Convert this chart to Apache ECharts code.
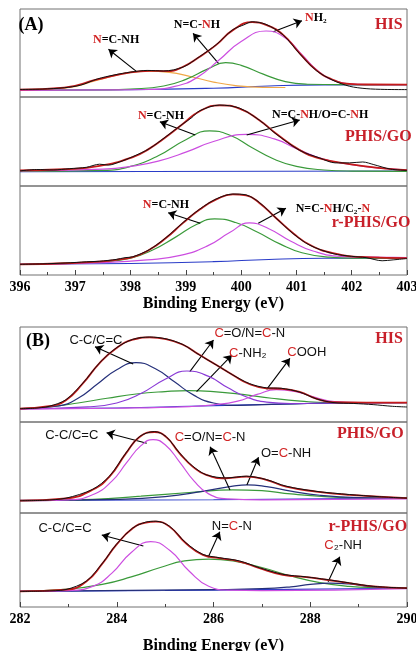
<!DOCTYPE html>
<html><head><meta charset="utf-8">
<script src="https://cdn.jsdelivr.net/npm/echarts@6.0.0/dist/echarts.min.js"></script>
<style>html,body{margin:0;padding:0;background:#fff}#c{width:416px;height:651px}</style>
</head><body><div id="c"></div>
<script>
// ---------- DATA (binding energy eV, intensity a.u. 0-100 per panel) ----------
const xTicksA = [396, 397, 398, 399, 400, 401, 402, 403];
const xTicksB = [282, 284, 286, 288, 290];

// (A) N1s  HIS
const A1_raw = [[396,8.6],[396.4,9],[396.8,10.5],[397.1,13.5],[397.4,20.5],[397.7,25],[398.0,28.3],[398.3,30.2],[398.6,29.6],[398.95,34],[399.25,46],[399.55,59.5],[399.85,76.5],[400.05,82],[400.2,85.5],[400.45,82.5],[400.76,70.5],[401.06,49],[401.36,30],[401.66,19],[401.96,12.2],[402.26,9.5],[402.6,8.6],[403,8.4]];
const A1_fit = [[396,8.4],[396.8,10.7],[397.4,20],[398.0,28],[398.35,29.8],[398.65,29.4],[398.95,34.4],[399.25,45.8],[399.55,59.2],[399.85,76],[400.2,85],[400.45,82],[400.76,70.6],[401.06,49.6],[401.36,30.5],[401.66,19.5],[401.96,15],[402.3,14.2],[403,14]];
const A1_base = [[396,7.6],[398,8.2],[399.5,10],[400.5,12.5],[401.5,13.8],[403,14]];
const A1_pk1 = [[396,8],[396.8,10],[397.4,19],[397.9,27],[398.3,29.5],[398.7,28],[399.1,23],[399.5,17],[399.9,13],[400.4,11],[400.8,10.8]];
const A1_pk2 = [[396,7.6],[397.5,8],[398.0,9],[398.6,12.5],[399.0,20],[399.4,32],[399.72,39],[400.0,36],[400.4,26],[400.8,17.5],[401.2,14.5],[401.8,14],[403,14]];
const A1_pk3 = [[396,7.6],[397.5,8],[398.3,8.5],[398.8,12],[399.2,22],[399.6,42],[400.0,63],[400.45,75],[400.8,67],[401.1,48],[401.4,29],[401.7,18.5],[402.1,14.5],[402.5,14],[403,14]];
// (A) PHIS/GO
const A2_raw = [[396,17],[396.3,18.5],[396.6,18],[396.9,19.5],[397.2,21],[397.44,24.5],[397.6,23.5],[397.8,27],[398.04,33],[398.34,42],[398.64,55.5],[398.95,70],[399.1,76.5],[399.25,84.5],[399.61,91],[399.97,87.5],[400.33,74],[400.63,58.5],[401.06,40],[401.42,31.5],[401.7,26],[401.96,26],[402.2,27],[402.4,24],[402.7,19],[403,17.5]];
const A2_fit = [[396,17.5],[396.8,18.8],[397.44,22.5],[398.04,32.5],[398.34,42],[398.64,55],[398.95,70],[399.25,84],[399.61,90.7],[399.97,87],[400.33,74],[400.63,59],[401.06,40.3],[401.42,31],[401.96,24.6],[402.57,19.8],[403,17.9]];
const A2_base = [[396,16],[403,16.8]];
const A2_pk1 = [[396,16.5],[397.5,17.5],[398.0,22],[398.5,34],[399.0,52],[399.43,62],[399.8,57],[400.2,43],[400.6,30],[401.0,22],[401.5,18],[402,16.8],[403,16.5]];
const A2_pk2 = [[396,17],[397.5,19],[398.0,22],[398.5,28],[399.0,38],[399.5,50],[400.1,58],[400.6,53],[401.0,42],[401.5,30],[402.0,24],[402.5,20],[403,18]];
// (A) r-PHIS/GO
const A3_raw = [[396,12],[396.4,12.5],[396.83,13.5],[397.2,14.8],[397.44,15.5],[397.74,17.5],[397.9,19.5],[398.04,20.5],[398.34,28.5],[398.64,42],[398.95,59],[399.25,74],[399.55,85.5],[399.85,91],[400.09,90],[400.33,81.5],[400.63,64],[400.94,46.5],[401.24,33.5],[401.66,24],[402.0,21],[402.26,19.5],[402.55,16],[402.75,17],[403,18.5]];
const A3_fit = [[396,12],[396.83,13.2],[397.44,15],[397.74,17],[398.04,20],[398.34,28.3],[398.64,41.5],[398.95,58.5],[399.25,73.6],[399.55,84.9],[399.85,90.6],[400.09,89.4],[400.33,81],[400.63,64],[400.94,47],[401.24,34],[401.66,24.5],[402.26,20],[403,19]];
const A3_base = [[396,12],[398,13],[399.5,15],[400.5,17.5],[401.5,18.8],[403,19]];
const A3_pk1 = [[396,12],[397.5,15],[398.0,19],[398.4,28],[398.8,42],[399.2,57],[399.52,63],[399.9,59],[400.3,48],[400.7,35],[401.1,25],[401.6,20],[402,19],[403,19]];
const A3_pk2 = [[396,12],[397.5,14],[398.3,17],[398.9,22],[399.4,33],[399.8,48],[400.15,58.5],[400.5,52],[400.9,38],[401.3,27],[401.8,21],[402.5,20],[403,19.5]];

// (B) C1s  HIS
const B1_raw = [[282,14],[282.3,14.5],[282.6,16.5],[282.95,23.5],[283.3,41],[283.64,62],[283.99,78],[284.33,87],[284.68,89.5],[285.02,87.5],[285.37,81.5],[285.71,70.5],[286.06,60],[286.4,49.5],[286.74,40.5],[287.09,36],[287.4,35.5],[287.78,31.5],[288.12,24.5],[288.47,20.5],[288.9,19.5],[289.3,18.3],[289.7,16.5],[290,15.8]];
const B1_fit = [[282,14.1],[282.6,16.6],[282.95,23],[283.3,40.6],[283.64,61.8],[283.99,77.7],[284.33,86.6],[284.68,89],[285.02,87.3],[285.37,81.3],[285.71,70.7],[286.06,60],[286.4,49.5],[286.74,40],[287.09,35.5],[287.4,35],[287.78,31.8],[288.12,24.7],[288.47,20.8],[289.16,20.5],[290,20.5]];
const B1_base = [[282,14],[284,14.8],[285.5,16.5],[287,18.5],[288.5,20],[290,20.5]];
const B1_pk1 = [[282,14],[282.8,17],[283.2,25],[283.6,40],[284.0,55],[284.4,62.5],[284.8,56],[285.2,42],[285.6,28],[286.0,20],[286.5,17.5],[287.2,18.5],[288.5,20],[290,20.5]];
const B1_pk2 = [[282,14],[283.4,16],[284.0,20],[284.5,30],[285.0,45],[285.45,53.7],[285.9,48],[286.3,36],[286.7,26],[287.1,21],[287.6,19.5],[288.5,20],[290,20.5]];
const B1_pk3 = [[282,14],[282.6,16],[283.2,20],[283.8,25],[284.4,29.5],[285.0,32],[285.5,33],[286.0,32],[286.6,29],[287.2,25],[287.8,22],[288.4,20.5],[290,20.5]];
const B1_pk4 = [[282,13.5],[284,14.5],[285.5,16.2],[286.0,18],[286.5,22],[286.9,29],[287.3,34],[287.7,32],[288.1,26],[288.5,21.5],[289,20.5],[290,20.5]];
// (B) PHIS/GO
const B2_raw = [[282,13.5],[282.5,14],[282.95,16.3],[283.5,26],[283.85,40.5],[284.19,66],[284.47,84],[284.78,89.5],[285.02,84],[285.3,66],[285.57,51.5],[285.85,42],[286.26,38.5],[286.68,40.5],[287.09,36.8],[287.5,29.5],[288.12,23.8],[288.81,20.3],[289.4,18],[290,16.3]];
const B2_fit = [[282,13.5],[282.95,16],[283.5,25.5],[283.85,40],[284.19,65.5],[284.47,83.6],[284.78,89],[285.02,83.6],[285.3,65.5],[285.57,51],[285.85,41.8],[286.26,38.2],[286.68,40],[287.09,36.4],[287.5,29],[288.12,23.6],[288.81,20],[290,16.4]];
const B2_base = [[282,13.8],[286,14.5],[290,16.4]];
const B2_pk1 = [[282,13.5],[283.0,14.5],[283.5,20],[283.9,35],[284.2,55],[284.5,74],[284.75,80.7],[285.0,75],[285.3,56],[285.6,35],[285.9,21],[286.3,15.5],[287,14.5],[290,15.5]];
const B2_pk2 = [[282,13.5],[283.5,15],[284.5,18.5],[285.5,22.5],[286.4,25.5],[287.0,24.5],[287.6,21],[288.3,18],[289,16.5],[290,16.4]];
const B2_pk3 = [[282,13.8],[284.0,15],[285.0,18],[285.8,24],[286.4,29.5],[286.7,31],[287.1,29],[287.6,24],[288.2,19.5],[289,17],[290,16.4]];
// (B) r-PHIS/GO
const B3_raw = [[282,16.6],[282.5,17],[282.95,18.6],[283.37,27.5],[283.71,47],[283.99,66.5],[284.33,84],[284.6,90.3],[284.81,91.3],[285.09,86],[285.43,68.3],[285.78,56],[286.12,52.5],[286.54,49],[286.95,41.8],[287.43,34.8],[287.92,32],[288.33,29.3],[288.81,25.6],[289.3,22],[290,20]];
const B3_fit = [[282,16.6],[282.95,18.4],[283.37,27.2],[283.71,46.6],[283.99,66],[284.33,83.7],[284.6,89.8],[284.81,90.8],[285.09,85.5],[285.43,67.8],[285.78,55.5],[286.12,52],[286.54,48.4],[286.95,41.3],[287.43,34.3],[287.92,31.8],[288.33,29],[288.81,25.4],[289.3,21.9],[290,20.1]];
const B3_base = [[282,16.6],[285,17.5],[287,18.5],[290,20]];
const B3_pk1 = [[282,16.6],[283.0,17.5],[283.5,22],[283.9,36],[284.3,58],[284.7,69.6],[285.1,60],[285.5,38],[285.9,22],[286.3,18],[287,17.5],[290,19.5]];
const B3_pk2 = [[282,16.6],[283.0,19],[283.7,24],[284.3,32],[284.9,42],[285.4,49],[285.9,51],[286.4,49],[287.0,42],[287.6,33],[288.2,26],[288.8,22],[289.4,20.5],[290,20]];
const B3_pk3 = [[282,16.6],[286,18.5],[287,19.5],[287.6,21.5],[288.0,24],[288.4,25.4],[288.8,24.5],[289.2,22],[289.6,20.5],[290,20]];

// ---------- STYLE ----------
const SERIF = '"Liberation Serif","Times New Roman",serif';
const SANS = '"Liberation Sans",Arial,sans-serif';
const TRED = '#d22626';
const C = {raw:'#111111', fit:'#c41a1a', base:'#2a3cc8', green:'#3a9a3a', mag:'#cc4ee0', orange:'#f0a848', navy:'#25307a', purple:'#8a3ad6'};

const richA = {k:{color:'#000',fontFamily:SERIF,fontWeight:'bold',fontSize:12}, r:{color:TRED,fontFamily:SERIF,fontWeight:'bold',fontSize:12}};
const richB = {k:{color:'#111',fontFamily:SANS,fontSize:13}, r:{color:TRED,fontFamily:SANS,fontSize:13}};
const richS = {s:{color:'#c8202a',fontFamily:SERIF,fontWeight:'bold',fontSize:16}, p:{color:'#000',fontFamily:SERIF,fontWeight:'bold',fontSize:18}};

function txt(x, y, str, rich){
  return {coord:[x,y], symbol:'circle', symbolSize:1, itemStyle:{color:'rgba(0,0,0,0)'},
    label:{show:true, position:'inside', formatter:()=>str, rich:rich}};
}
function arr(x1,y1,x2,y2){ return [{coord:[x1,y1]},{coord:[x2,y2]}]; }

const ann = [
  {pts:[txt(396.2,81.8,'{p|(A)}',richS), txt(402.67,81.8,'{s|HIS}',richS),
        txt(397.74,64.8,'{r|N}{k|=C-NH}',richA), txt(399.2,81.8,'{k|N=C-}{r|N}{k|H}',richA),
        txt(401.35,89.8,'{r|N}{k|H₂}',richA)],
   lines:[arr(398.11,28.8,397.6,54.2), arr(399.59,38.3,399.13,72.4), arr(400.58,74.2,401.1,86.7)]},
  {pts:[txt(402.48,55,'{s|PHIS/GO}',richS), txt(398.55,78.7,'{r|N}{k|=C-NH}',richA),
        txt(401.43,79.8,'{k|N=C-}{r|N}{k|H/O=C-}{r|N}{k|H}',richA)],
   lines:[arr(399.17,57.3,398.53,72.2), arr(400.1,57.3,401.06,74.2)]},
  {pts:[txt(402.35,58.4,'{s|r-PHIS/GO}',richS), txt(398.64,78.7,'{r|N}{k|=C-NH}',richA),
        txt(401.66,74.2,'{k|N=C-}{r|N}{k|H/C₂-}{r|N}',richA)],
   lines:[arr(399.26,58.1,398.68,70), arr(400.31,58.1,400.81,74.9)]},
  {pts:[txt(282.37,85.3,'{p|(B)}',richS), txt(289.63,87.4,'{s|HIS}',richS),
        txt(283.57,86.3,'{k|C-C/C=C}',richB), txt(286.75,93.7,'{r|C}{k|=O/N=}{r|C}{k|-N}',richB),
        txt(286.71,72.6,'{r|C}{k|-NH₂}',richB), txt(287.93,73.7,'{r|C}{k|OOH}',richB)],
   lines:[arr(284.34,61,283.55,79.3), arr(285.51,53,286.0,86.3), arr(285.65,31.9,286.38,70.5), arr(287.1,34.4,287.58,67)]},
  {pts:[txt(289.24,86.8,'{s|PHIS/GO}',richS), txt(283.07,85.7,'{k|C-C/C=C}',richB),
        txt(285.93,83.5,'{r|C}{k|=O/N=}{r|C}{k|-N}',richB), txt(287.5,65.9,'{k|O=}{r|C}{k|-NH}',richB)],
   lines:[arr(284.62,76.6,283.79,88.2), arr(286.34,25.3,285.93,72.9), arr(286.69,30.8,286.93,61.2)]},
  {pts:[txt(289.19,85.1,'{s|r-PHIS/GO}',richS), txt(282.93,84,'{k|C-C/C=C}',richB),
        txt(286.38,86.2,'{k|N=}{r|C}{k|-N}',richB), txt(288.68,66,'{r|C}{k|₂-NH}',richB)],
   lines:[arr(284.55,64.9,283.69,76.6), arr(285.89,52.9,286.13,80.1), arr(288.37,26.9,288.61,53.5)]}
];

const panels = [
  {base:A1_base, comps:[[A1_pk1,C.orange],[A1_pk2,C.green],[A1_pk3,C.mag]], fit:A1_fit, raw:A1_raw},
  {base:A2_base, comps:[[A2_pk1,C.green],[A2_pk2,C.mag]], fit:A2_fit, raw:A2_raw},
  {base:A3_base, comps:[[A3_pk1,C.green],[A3_pk2,C.mag]], fit:A3_fit, raw:A3_raw},
  {base:B1_base, comps:[[B1_pk3,C.green],[B1_pk1,C.navy],[B1_pk2,C.purple],[B1_pk4,C.mag]], fit:B1_fit, raw:B1_raw},
  {base:B2_base, comps:[[B2_pk2,C.green],[B2_pk3,C.navy],[B2_pk1,C.mag]], fit:B2_fit, raw:B2_raw},
  {base:B3_base, comps:[[B3_pk2,C.green],[B3_pk3,C.navy],[B3_pk1,C.mag]], fit:B3_fit, raw:B3_raw}
];

const gridBoxes = [[9,88],[97,89],[186,89],[327,95],[422,91],[513,94]];
const grids = gridBoxes.map(b=>({left:20, width:387, top:b[0], height:b[1], show:true,
  borderColor:'#707070', borderWidth:1, backgroundColor:'rgba(0,0,0,0)', containLabel:false, outerBoundsMode:'none'}));

const xAxes = gridBoxes.map((b,i)=>{
  const isA = i<3, bottom = (i===2||i===5);
  const ticks = isA ? xTicksA : xTicksB;
  return {gridIndex:i, type:'value', min:ticks[0], max:ticks[ticks.length-1], interval:ticks[1]-ticks[0],
    axisLine:{show:false}, splitLine:{show:false},
    axisTick:{show:bottom, inside:true, length:5, lineStyle:{color:'#444'}},
    minorTick:{show:bottom, splitNumber:2, length:3, lineStyle:{color:'#444'}},
    axisLabel:{show:bottom, margin:5, fontFamily:SERIF, fontWeight:'bold', fontSize:14, color:'#000'},
    name: bottom ? 'Binding Energy (eV)' : '', nameLocation:'middle', nameGap: i===2 ? 21 : 31,
    nameTextStyle:{fontFamily:SERIF, fontWeight:'bold', fontSize:16, color:'#000'}};
});
const yAxes = gridBoxes.map((b,i)=>({gridIndex:i, type:'value', min:0, max:100, show:false}));

function line(i, data, color, width, z, extra){
  return Object.assign({type:'line', xAxisIndex:i, yAxisIndex:i, data:data, smooth:0.5, symbol:'none',
    showSymbol:false, silent:true, clip:false, z:z, lineStyle:{color:color, width:width}}, extra||{});
}

const series = [];
panels.forEach((p,i)=>{
  series.push(line(i, p.base, C.base, 1.1, 2));
  p.comps.forEach((c,j)=>series.push(line(i, c[0], c[1], 1.2, 3+j)));
  series.push(line(i, p.fit, C.fit, 1.8, 8));
  series.push(line(i, p.raw, C.raw, 1.0, 9, {smooth:0.3,
    markPoint:{silent:true, animation:false, data:ann[i].pts},
    markLine:{silent:true, animation:false, symbol:['none','arrow'], symbolSize:8,
      lineStyle:{color:'#000', width:1.1, type:'solid'}, label:{show:false}, data:ann[i].lines}}));
});

const chart = echarts.init(document.getElementById('c'), null, {renderer:'canvas'});
chart.setOption({animation:false, backgroundColor:'#fff', grid:grids, xAxis:xAxes, yAxis:yAxes, series:series});
</script></body></html>
